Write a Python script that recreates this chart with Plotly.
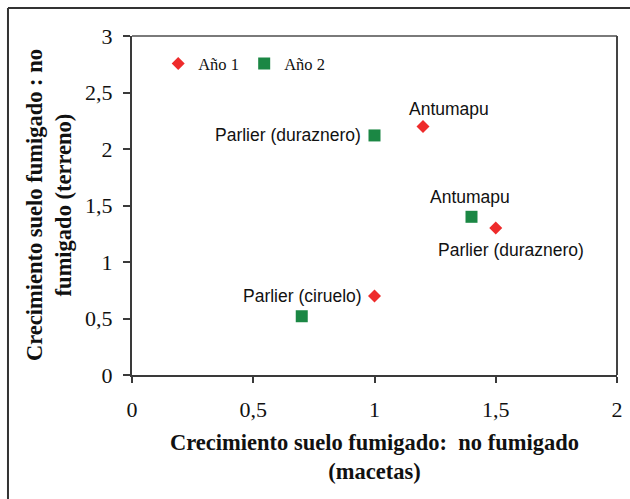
import plotly.graph_objects as go

# Growth ratio: fumigated / non-fumigated soil, pots (x) vs field (y)
sites_y1 = ["Antumapu", "Parlier (duraznero)", "Parlier (ciruelo)"]
macetas_y1 = [1.2, 1.5, 1.0]
terreno_y1 = [2.2, 1.3, 0.7]

sites_y2 = ["Antumapu", "Parlier (duraznero)", "Parlier (ciruelo)"]
macetas_y2 = [1.4, 1.0, 0.7]
terreno_y2 = [1.4, 2.12, 0.52]

x_ticks = [0, 0.5, 1, 1.5, 2]
y_ticks = [0, 0.5, 1, 1.5, 2, 2.5, 3]

RED = "#EE2B2B"
GREEN = "#1B8744"
AXIS = "#3a3a3a"
SERIF = "Liberation Serif, Times New Roman, serif"
SANS = "Liberation Sans, Arial, sans-serif"

fig = go.Figure()
fig.add_trace(go.Scatter(
    x=macetas_y1, y=terreno_y1, mode="markers", name="Año 1",
    marker=dict(symbol="diamond", size=10, color=RED),
))
fig.add_trace(go.Scatter(
    x=macetas_y2, y=terreno_y2, mode="markers", name="Año 2",
    marker=dict(symbol="square", size=12, color=GREEN),
))

# Site labels placed next to each marker
label_specs = [
    (macetas_y1[0], terreno_y1[0], sites_y1[0], "center", 26, 17),
    (macetas_y1[1], terreno_y1[1], sites_y1[1], "center", 15, -22),
    (macetas_y1[2], terreno_y1[2], sites_y1[2], "right", -11, 0),
    (macetas_y2[0], terreno_y2[0], sites_y2[0], "center", -2, 20),
    (macetas_y2[1], terreno_y2[1], sites_y2[1], "right", -12, 0),
]
annotations = []
for x, y, txt, anchor, dx, dy in label_specs:
    annotations.append(dict(
        x=x, y=y, xref="x", yref="y", text=txt, showarrow=False,
        xanchor=anchor, yanchor="middle", xshift=dx, yshift=dy,
        font=dict(family=SANS, size=17.5, color="#111"),
    ))

# Axis titles
annotations.append(dict(
    x=0.5, y=-0.155, xref="paper", yref="paper", xanchor="center", yanchor="top",
    text="<b>Crecimiento suelo fumigado:  no fumigado<br>(macetas)</b>",
    showarrow=False, font=dict(family=SERIF, size=22.5, color="#111"),
))
annotations.append(dict(
    x=-0.172, y=0.5, xref="paper", yref="paper", xanchor="center", yanchor="middle",
    text="<b>Crecimiento suelo fumigado : no<br>fumigado (terreno)</b>",
    textangle=-90, showarrow=False, font=dict(family=SERIF, size=22.5, color="#111"),
))

shapes = [
    # plot-area frame (top and right)
    dict(type="line", xref="paper", yref="paper", x0=0, x1=1, y0=1, y1=1,
         line=dict(color="#7a7a7a", width=2)),
    dict(type="line", xref="paper", yref="paper", x0=1, x1=1, y0=0, y1=1,
         line=dict(color="#444", width=2)),
    # outer chart border (left and top)
    dict(type="line", xref="paper", yref="paper", x0=-0.2557, x1=1.2, y0=1.0826, y1=1.0826,
         line=dict(color="#333", width=2)),
    dict(type="line", xref="paper", yref="paper", x0=-0.2557, x1=-0.2557, y0=1.0826, y1=-0.5,
         line=dict(color="#333", width=2)),
]

fig.update_layout(
    width=630, height=499,
    margin=dict(l=132, r=13, t=36, b=124, autoexpand=False),
    paper_bgcolor="white", plot_bgcolor="white",
    separators=",.",
    showlegend=True,
    legend=dict(
        orientation="h", x=0.054, y=0.918, xanchor="left", yanchor="middle",
        font=dict(family=SERIF, size=16.5, color="#111"),
        bgcolor="rgba(0,0,0,0)", itemwidth=30, tracegroupgap=0,
        entrywidth=41,
    ),
    annotations=annotations,
    shapes=shapes,
)
fig.update_xaxes(
    range=[0, 2], tickvals=x_ticks, showgrid=False, zeroline=False,
    showline=True, linecolor=AXIS, linewidth=2, automargin=False,
    ticks="outside", ticklen=6, tickwidth=1.5, tickcolor=AXIS,
    tickfont=dict(family=SERIF, size=22, color="#111"), ticklabelstandoff=8,
)
fig.update_yaxes(
    range=[0, 3], tickvals=y_ticks, showgrid=False, zeroline=False,
    showline=True, linecolor=AXIS, linewidth=2, automargin=False,
    ticks="outside", ticklen=7, tickwidth=1.5, tickcolor=AXIS,
    tickfont=dict(family=SERIF, size=22, color="#111"), ticklabelstandoff=6,
)

fig.write_html("out.html")
